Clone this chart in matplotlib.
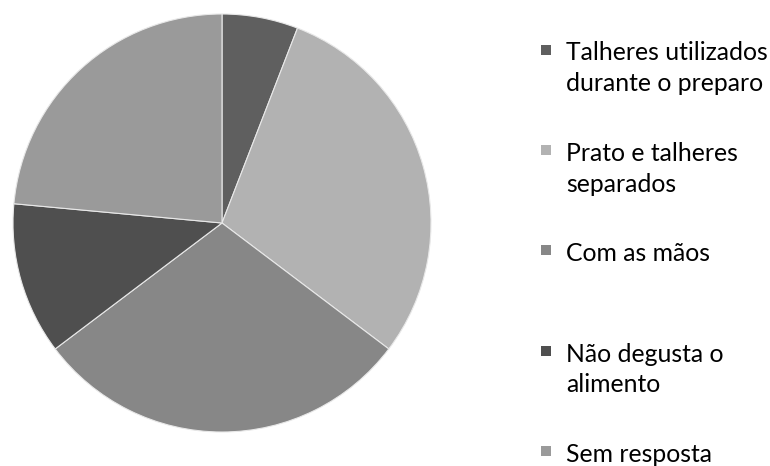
import matplotlib
matplotlib.use("Agg")
import matplotlib.pyplot as plt
from matplotlib.patches import Rectangle

categories = ["Talheres utilizados\ndurante o preparo",
              "Prato e talheres\nseparados",
              "Com as mãos",
              "Não degusta o\nalimento",
              "Sem resposta"]
values = [1, 5, 5, 2, 4]
colors = ["#5f5f5f", "#b2b2b2", "#878787", "#4f4f4f", "#9a9a9a"]

W, H = 770, 466
fig = plt.figure(figsize=(W / 100, H / 100), dpi=100)
plt.rcParams['font.family'] = ['Lato', 'DejaVu Sans']

cx, cy, r = 222, 223, 209
ax = fig.add_axes([(cx - r) / W, (H - cy - r) / H, 2 * r / W, 2 * r / H])
ax.pie(values, colors=colors, startangle=90, counterclock=False,
       wedgeprops=dict(edgecolor="#e8e8e8", linewidth=0.8))
ax.set_xlim(-1, 1)
ax.set_ylim(-1, 1)
ax.set_aspect('equal')
ax.axis('off')

baselines = [60.5, 161, 261, 361.5, 462]
for lab, col, yb in zip(categories, colors, baselines):
    fig.patches.append(Rectangle((541 / W, (H - (yb - 11) - 5) / H), 10 / W, 10 / H,
                                 transform=fig.transFigure, facecolor=col,
                                 edgecolor='none'))
    for k, line in enumerate(lab.split("\n")):
        fig.text(566 / W, (H - (yb + 30.5 * k)) / H, line, fontsize=17.8,
                 va='baseline', ha='left', color='black')

fig.savefig("out.png", dpi=100)
